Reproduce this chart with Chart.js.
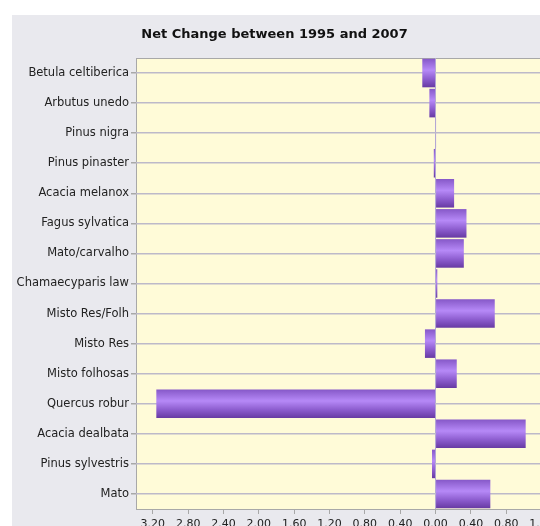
<!DOCTYPE html>
<html>
<head>
<meta charset="utf-8">
<script src="https://cdn.jsdelivr.net/npm/chart.js@4/dist/chart.umd.min.js"></script>
<style>
  html, body { margin: 0; padding: 0; background: #fff; overflow: hidden; width: 540px; height: 526px; }
  #wrap { position: absolute; left: 12px; top: 15px; width: 600px; height: 511px; background: #e9e9ee; }
</style>
</head>
<body>
<div id="wrap"><canvas id="chart" width="600" height="511"></canvas></div>
<script>
const categories = ["Betula celtiberica", "Arbutus unedo", "Pinus nigra", "Pinus pinaster", "Acacia melanox",
    "Fagus sylvatica", "Mato/carvalho", "Chamaecyparis law", "Misto Res/Folh", "Misto Res",
    "Misto folhosas", "Quercus robur", "Acacia dealbata", "Pinus sylvestris", "Mato"];
const netChange = [-0.15, -0.07, 0.005, -0.02, 0.21, 0.35, 0.32, 0.02, 0.67, -0.12, 0.24, -3.16, 1.02, -0.04, 0.62];
const tickValues = [-3.2, -2.8, -2.4, -2.0, -1.6, -1.2, -0.8, -0.4, 0, 0.4, 0.8, 1.2];
const title = "Net Change between 1995 and 2007";

const fontFamily = "'DejaVu Sans', Verdana, sans-serif";

// purple bars with a light band through the middle
function barFill(ctx) {
    const chart = ctx.chart;
    const y = chart.scales.y;
    if (!y || ctx.dataIndex === undefined) return '#9466d8';
    const c = y.getPixelForValue(ctx.dataIndex);
    const h = y.height / categories.length * 0.95 / 2;
    if (!isFinite(c) || !isFinite(h) || h <= 0) return '#9466d8';
    const g = chart.ctx.createLinearGradient(0, c - h, 0, c + h);
    g.addColorStop(0, '#8658c8');
    g.addColorStop(0.4, '#b689f7');
    g.addColorStop(0.72, '#8b5bcd');
    g.addColorStop(1, '#673aa3');
    return g;
}

const plotBack = {
    id: 'plotBack',
    beforeDraw(chart) {
        const { ctx, chartArea: a } = chart;
        ctx.save();
        ctx.fillStyle = '#fffbd8';
        ctx.fillRect(a.left, a.top, a.right - a.left, a.bottom - a.top);
        ctx.strokeStyle = '#a8a8a8';
        ctx.lineWidth = 1;
        ctx.strokeRect(a.left + 0.5, a.top + 0.5, a.right - a.left, a.bottom - a.top);
        ctx.restore();
    },
    afterDraw(chart) {
        const ctx = chart.ctx;
        ctx.save();
        ctx.font = "bold 13px " + fontFamily;
        ctx.fillStyle = '#111';
        ctx.textAlign = 'center';
        ctx.textBaseline = 'middle';
        ctx.fillText(title, 262.5, 20);
        ctx.restore();
    }
};

const chart = new Chart(document.getElementById('chart'), {
    type: 'bar',
    data: {
        labels: categories,
        datasets: [{
            data: netChange,
            backgroundColor: barFill,
            borderWidth: 0,
            categoryPercentage: 1,
            barPercentage: 0.95
        }]
    },
    options: {
        indexAxis: 'y',
        responsive: false,
        animation: false,
        devicePixelRatio: 1,
        layout: { padding: { top: 43, left: 0, right: 66, bottom: 0 } },
        plugins: { legend: { display: false }, title: { display: false }, tooltip: { enabled: false } },
        scales: {
            x: {
                min: -3.39,
                max: 1.25,
                afterBuildTicks(scale) { scale.ticks = tickValues.map(v => ({ value: v })); },
                afterFit(scale) { scale.height = 17; },
                border: { display: false },
                grid: {
                    color: c => (c.tick && c.tick.value === 0) ? '#b4a8d4' : 'rgba(0,0,0,0)',
                    tickColor: '#a8a8a8',
                    tickLength: 5,
                    lineWidth: 1
                },
                ticks: {
                    color: '#222',
                    font: { family: fontFamily, size: 11 },
                    padding: 4,
                    maxRotation: 0,
                    autoSkip: false,
                    callback: v => Math.abs(v).toFixed(2)
                }
            },
            y: {
                afterFit(scale) { scale.width = 124; },
                border: { display: false },
                grid: {
                    offset: false,
                    color: '#bdb9c9',
                    tickColor: '#a8a8a8',
                    tickLength: 5,
                    lineWidth: 1.5
                },
                ticks: { color: '#222', font: { family: fontFamily, size: 11.5 }, padding: 2, autoSkip: false }
            }
        }
    },
    plugins: [plotBack]
});
// redraw once the scales exist so the bar gradients can be placed
chart.update();
</script>
</body>
</html>
